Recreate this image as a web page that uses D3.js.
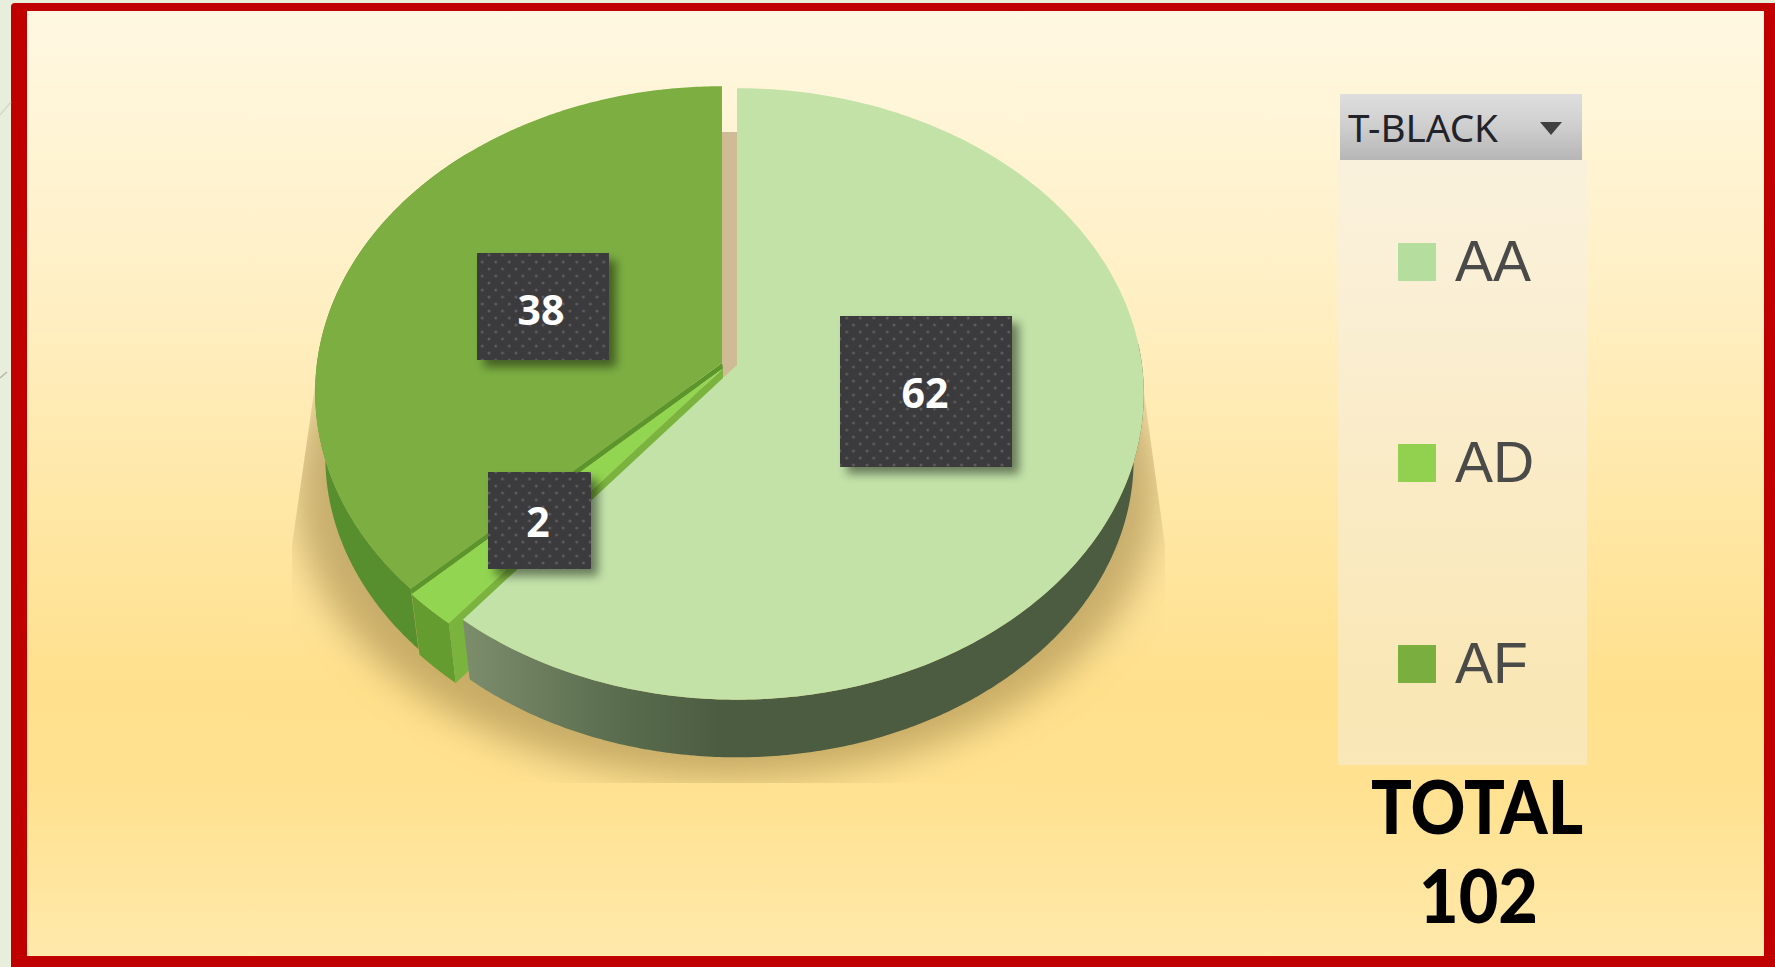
<!DOCTYPE html>
<html><head><meta charset="utf-8">
<script src="https://cdn.jsdelivr.net/npm/d3@7"></script>
<style>html,body{margin:0;padding:0;background:#e8eedc;overflow:hidden}svg{display:block}</style>
</head><body><svg id="c" width="1775" height="967"></svg>
<script>
const categories = ["AA","AD","AF"];
const values = [62,2,38];
const topColors = ["#c2e2a8","#92d551","#7cae42"];
const swatchColors = ["#b5dd9d","#92d050","#7aae3e"];
const totalLabel = ["TOTAL","102"];
const filterLabel = "T-BLACK";

const W=1775,H=967;
const svg=d3.select("#c");
const defs=svg.append("defs");

function grad(id,stops,attrs){
  const g=defs.append("linearGradient").attr("id",id);
  Object.entries(attrs).forEach(([k,v])=>g.attr(k,v));
  stops.forEach(([o,c])=>g.append("stop").attr("offset",o).attr("stop-color",c));
}
grad("bg",[[0,"#fff8e2"],[0.3,"#ffefc4"],[0.55,"#ffe6a2"],[0.72,"#ffe08c"],[0.84,"#ffe292"],[1,"#ffe9ab"]],{x1:0,y1:0,x2:0,y2:1});
grad("btn",[[0,"#dedede"],[0.45,"#d0d0d0"],[1,"#b6b6b6"]],{x1:0,y1:0,x2:0,y2:1});
grad("wallAA",[[0,"#7c8d6c"],[0.55,"#5c6f50"],[1,"#4c5c41"]],{gradientUnits:"userSpaceOnUse",x1:465,y1:0,x2:720,y2:0});
defs.append("filter").attr("id","blurS").attr("x","-20%").attr("y","-20%").attr("width","140%").attr("height","140%")
  .append("feGaussianBlur").attr("stdDeviation",18);
const ds=defs.append("filter").attr("id","boxS").attr("x","-20%").attr("y","-20%").attr("width","150%").attr("height","150%");
ds.append("feDropShadow").attr("dx",7).attr("dy",7).attr("stdDeviation",5).attr("flood-color","#000").attr("flood-opacity",.45);
const pat=defs.append("pattern").attr("id","dots").attr("patternUnits","userSpaceOnUse").attr("width",13.5).attr("height",14);
pat.append("rect").attr("width",13.5).attr("height",14).attr("fill","#3b3a3c");
[[3,3],[9.75,10]].forEach(p=>pat.append("circle").attr("cx",p[0]).attr("cy",p[1]).attr("r",1.5).attr("fill","#5f5b5c"));
const clip=defs.append("clipPath").attr("id","shClip");
clip.append("path").attr("d","M315,385 L1143,385 L1165,545 L1165,783 L290,783 L292,545 Z");

// page frame
svg.append("rect").attr("x",11).attr("y",3).attr("width",W).attr("height",H).attr("rx",4).attr("fill","#c00000");
svg.append("rect").attr("x",27).attr("y",11).attr("width",1737).attr("height",945).attr("fill","url(#bg)");
svg.append("path").attr("d","M0,115 L11,102").attr("stroke","#d5d9c8").attr("stroke-width",1.5);
svg.append("path").attr("d","M0,378 L7,372").attr("stroke","#b5b8a8").attr("stroke-width",1.5);

// pie geometry: perspective projection of a tilted disc
const k=0.0947,Ax=405,Ay=303,depth=66,shrink=0.975;
const apex={AA:[737,365],AD:[723,368.5],AF:[722,363]};
function proj(c,a,r,low){
  const u=r*Math.sin(a),v=r*Math.cos(a),d=1+k*v,s=low?shrink:1;
  return [apex[c][0]+s*Ax*u/d, apex[c][1]+(low?depth:0)-s*Ay*v/d];
}
const arcs=d3.pie().sort(null).value((d,i)=>values[i])(categories);
const bySlice=Object.fromEntries(arcs.map((d,i)=>[categories[i],d]));
const line=d3.line().curve(d3.curveLinear);
const rng=(a,b)=>d3.range(0,241).map(i=>a+(b-a)*i/240);
function topPath(c){const s=bySlice[c];return line([apex[c],...rng(s.startAngle,s.endAngle).map(a=>proj(c,a,1,false))])+"Z";}
function wallPath(c,a0,a1){
  const t=rng(a0,a1);
  return line([...t.map(a=>proj(c,a,1,false)),...t.slice().reverse().map(a=>proj(c,a,1,true))])+"Z";
}
function radialFace(c,a,r0,r1){
  return line([r0===0?apex[c]:proj(c,a,r0,false),proj(c,a,r1,false),proj(c,a,r1,true),
    r0===0?[apex[c][0],apex[c][1]+depth]:proj(c,a,r0,true)])+"Z";
}

// shadow beneath the pie
svg.append("g").attr("clip-path","url(#shClip)").append("ellipse")
  .attr("cx",727).attr("cy",490).attr("rx",432).attr("ry",290)
  .attr("fill","#ac9152").attr("fill-opacity",.66).attr("filter","url(#blurS)");
// shadow seen in the gap between slices
svg.append("rect").attr("x",apex.AF[0]).attr("y",132).attr("width",apex.AA[0]-apex.AF[0]+2).attr("height",245).attr("fill","#cfbc96");

// walls
const af=bySlice.AF,ad=bySlice.AD,aa=bySlice.AA;
svg.append("path").attr("d",wallPath("AF",af.startAngle,af.startAngle+1.6)).attr("fill","#588f2e");
svg.append("path").attr("d",wallPath("AD",ad.startAngle,ad.endAngle)).attr("fill","#659c30");
svg.append("path").attr("d",radialFace("AD",ad.startAngle,0,1)).attr("fill","#7ab33e");
svg.append("path").attr("d",wallPath("AA",1.5,aa.endAngle)).attr("fill","url(#wallAA)");

// dark cut face between AF and AD
svg.append("path").attr("d",line([apex.AF,proj("AF",af.startAngle,1,false),proj("AD",af.startAngle,1,false),apex.AD])+"Z").attr("fill","#5b962c");

// tops
svg.append("g").selectAll("path").data(["AD","AF","AA"]).join("path")
  .attr("d",topPath).attr("fill",c=>topColors[categories.indexOf(c)]);

// value labels
const boxes=[[840,316,172,151,925,408],[488,472,103,97,538,537],[477,253,132,107,541,325]];
const gl=svg.append("g").selectAll("g").data(categories).join("g");
gl.append("rect").attr("x",(d,i)=>boxes[i][0]).attr("y",(d,i)=>boxes[i][1]).attr("width",(d,i)=>boxes[i][2]).attr("height",(d,i)=>boxes[i][3])
  .attr("fill","url(#dots)").attr("filter","url(#boxS)");
gl.append("text").attr("x",(d,i)=>boxes[i][4]).attr("y",(d,i)=>boxes[i][5]).attr("text-anchor","middle")
  .attr("font-family","'Open Sans'").attr("font-weight",700).attr("font-size",41).attr("fill","#fff")
  .text((d,i)=>values[i]);

// slicer / legend panel
svg.append("rect").attr("x",1338).attr("y",160).attr("width",249).attr("height",605).attr("fill","#f3efe8").attr("fill-opacity",.45);
svg.append("rect").attr("x",1340).attr("y",94).attr("width",242).attr("height",66).attr("fill","url(#btn)");
svg.append("text").attr("x",1348).attr("y",142).attr("font-family","'Noto Sans'").attr("font-size",38).attr("fill","#22222a")
  .attr("textLength",150).attr("lengthAdjust","spacingAndGlyphs").text(filterLabel);
svg.append("path").attr("d","M1540,122 L1562,122 L1551,135 Z").attr("fill","#404040");

const yLegend=d3.scalePoint().domain(categories).range([281,683]);
const lg=svg.append("g").selectAll("g").data(categories).join("g");
lg.append("rect").attr("x",1398).attr("y",d=>yLegend(d)-38).attr("width",38).attr("height",38).attr("fill",(d,i)=>swatchColors[i]);
lg.append("text").attr("x",1455).attr("y",d=>yLegend(d)).attr("font-family","'Liberation Sans'").attr("font-size",57).attr("fill","#4a4a48").text(d=>d);

// total
svg.append("text").attr("x",1371).attr("y",834).attr("font-family","Lato").attr("font-weight",900).attr("font-size",75)
  .attr("textLength",212).attr("lengthAdjust","spacingAndGlyphs").attr("fill","#000").text(totalLabel[0]);
svg.append("text").attr("x",1419).attr("y",923).attr("font-family","Lato").attr("font-weight",900).attr("font-size",75)
  .attr("textLength",119).attr("lengthAdjust","spacingAndGlyphs").attr("fill","#000").text(totalLabel[1]);
</script></body></html>
